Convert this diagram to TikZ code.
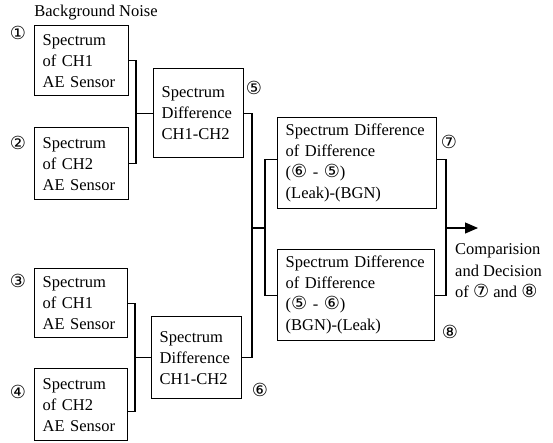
\documentclass[tikz,border=0pt]{standalone}
\usepackage{fontspec}
\setmainfont{Liberation Serif}
\newfontfamily\circfont{DejaVu Sans}
\usetikzlibrary{arrows.meta}
\newcommand\cnum[1]{{\circfont\fontsize{18}{18}\selectfont #1}}
\begin{document}
\begin{tikzpicture}[x=1pt,y=-1pt,
  box/.style n args={3}{draw, line width=1.4pt, anchor=north west, align=left,
    inner xsep=8pt, inner ysep=0pt, minimum width=#1pt, minimum height=#2pt, text width=#3pt,
    font=\fontsize{16.5}{21}\selectfont},
  conn/.style={line width=1.1pt},
  numlbl/.style={inner sep=0pt},
  txt/.style={inner sep=0pt, align=left, font=\fontsize{16.5}{21.5}\selectfont}]
\useasboundingbox (0,0) rectangle (553,442);

\node[txt] (bg) at (96,13) {Background Noise};

\node[box={94}{70}{78}] (b1) at (34,25) {Spectrum\\of CH1\\AE Sensor};
\node[box={94}{72}{78}] (b2) at (34,127) {Spectrum\\of CH2\\AE Sensor};
\node[box={93}{69}{77}] (b3) at (34,268) {Spectrum\\of CH1\\AE Sensor};
\node[box={93}{72}{77}] (b4) at (34,368) {Spectrum\\of CH2\\AE Sensor};
\node[box={90}{89}{74}] (b5) at (153,68) {Spectrum\\Difference\\CH1-CH2};
\node[box={90}{82}{74}] (b6) at (151,316) {Spectrum\\Difference\\CH1-CH2};
\node[box={159}{91}{143}] (b7) at (277,117) {Spectrum Difference\\of Difference\\(\cnum{⑥} - \cnum{⑤})\\(Leak)-(BGN)};
\node[box={157}{91}{141}] (b8) at (277,249) {Spectrum Difference\\of Difference\\(\cnum{⑤} - \cnum{⑥})\\(BGN)-(Leak)};

\node[numlbl] (n1) at (18,33) {\cnum{①}};
\node[numlbl] (n2) at (18,143) {\cnum{②}};
\node[numlbl] (n3) at (18,281) {\cnum{③}};
\node[numlbl] (n4) at (18,392) {\cnum{④}};
\node[numlbl] (n5) at (254,88) {\cnum{⑤}};
\node[numlbl] (n6) at (260,390) {\cnum{⑥}};
\node[numlbl] (n7) at (449,142) {\cnum{⑦}};
\node[numlbl] (n8) at (450,332) {\cnum{⑧}};

\node[txt, anchor=west] (res) at (455,271) {Comparision\\and Decision\\of \cnum{⑦} and \cnum{⑧}};

\path (b5.west) ++(-17,0) coordinate (j1);
\path (b6.west) ++(-16,0) coordinate (j2);
\coordinate (j3) at (252,228);
\coordinate (j4) at (265,228);
\coordinate (j5) at (446,228);
\coordinate (out) at (478,228);

\draw[conn] (b1.east) -| (j1) |- (b2.east);
\draw[conn] (j1) -- (b5.west);
\draw[conn] (b3.east) -| (j2) |- ([yshift=-7pt]b4.east);
\draw[conn] (j2) -- (b6.west);
\draw[conn] (b5.east) -| (j3) |- (b6.east);
\draw[conn] (j3) -- (j4);
\draw[conn] ([yshift=4pt]b7.west) -| (j4) |- (b8.west);
\draw[conn] ([yshift=4pt]b7.east) -| (j5) |- (b8.east);
\draw[conn, -{Triangle[length=13pt,width=11pt]}] (j5) -- (out);
\end{tikzpicture}
\end{document}
